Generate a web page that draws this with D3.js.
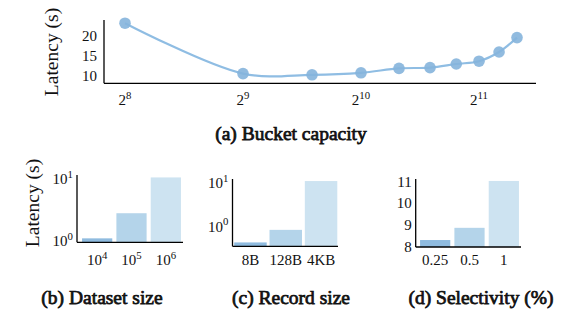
<!DOCTYPE html>
<html>
<head>
<meta charset="utf-8">
<script src="https://cdn.jsdelivr.net/npm/d3@7"></script>
<style>
  body { margin: 0; background: #fff; }
  svg text { font-family: "Liberation Serif", "DejaVu Serif", serif; fill: #111; }
  svg text.title { stroke: #111; stroke-width: 0.75; }
</style>
</head>
<body>
<script>
// --- data ---
// (a) bucket capacity vs latency
const capacity = [256, 512, 768, 1024, 1280, 1536, 1792, 2048, 2304, 2560];
const capLatency = [23.2, 10.6, 10.3, 10.8, 11.9, 12.1, 13.0, 13.7, 16.0, 19.6];
const capTicks = [256, 512, 1024, 2048];
const capYTicks = [10, 15, 20];

// (b) dataset size
const datasetCats = ["4", "5", "6"];          // exponents of 10
const datasetLatency = [1.1, 2.8, 10.6];

// (c) record size
const recordCats = ["8B", "128B", "4KB"];
const recordLatency = [0.43, 0.84, 11.3];

// (d) selectivity
const selCats = ["0.25", "0.5", "1"];
const selLatency = [8.32, 8.88, 11.03];

const barColors = ["#8fbbdf", "#b4d4ea", "#cde3f1"];
const lineColor = "#8fbde3";

const W = 574, H = 312;
const svg = d3.select("body").append("svg")
  .attr("width", W).attr("height", H);

function supLabel(sel, base, exp, size) {
  sel.append("tspan").text(base);
  sel.append("tspan").text(exp)
    .attr("font-size", size * 0.72)
    .attr("dy", -size * 0.42);
}

// ---------- (a) ----------
const xa = d3.scaleLog().base(2)
  .domain([Math.pow(2, 7.822), Math.pow(2, 11.483)])
  .range([104, 536]);
const ya = d3.scaleLinear().domain([8.17, 24]).range([83.3, 20]);

const ga = svg.append("g");
// axes
ga.append("line").attr("x1", xa.range()[0]).attr("x2", xa.range()[0])
  .attr("y1", ya.range()[1]).attr("y2", ya.range()[0])
  .attr("stroke", "#000").attr("stroke-width", 1.3);
ga.append("line").attr("x1", xa.range()[0]).attr("x2", xa.range()[1])
  .attr("y1", ya.range()[0]).attr("y2", ya.range()[0])
  .attr("stroke", "#000").attr("stroke-width", 1.3);

ga.selectAll(".ytick").data(capYTicks).enter().append("text")
  .attr("x", 97).attr("y", d => ya(d) + 5)
  .attr("text-anchor", "end").attr("font-size", 15)
  .text(d => d);

ga.selectAll(".xtick").data(capTicks).enter().append("text")
  .attr("x", d => xa(d)).attr("y", 105)
  .attr("text-anchor", "middle").attr("font-size", 15)
  .each(function(d) { supLabel(d3.select(this), "2", Math.log2(d), 15); });

ga.append("text")
  .attr("transform", "translate(58,52) rotate(-90)")
  .attr("text-anchor", "middle").attr("font-size", 19.5)
  .text("Latency (s)");

const pts = capacity.map((c, i) => [c, capLatency[i]]);
ga.append("path")
  .attr("d", d3.line().x(d => xa(d[0])).y(d => ya(d[1]))
    .curve(d3.curveCatmullRom.alpha(0.5))(pts))
  .attr("fill", "none").attr("stroke", lineColor).attr("stroke-width", 2.2);
ga.selectAll("circle").data(pts).enter().append("circle")
  .attr("cx", d => xa(d[0])).attr("cy", d => ya(d[1])).attr("r", 5.8)
  .attr("fill", "#85b4dc").attr("opacity", 0.9);

ga.append("text").attr("class", "title").attr("x", 291).attr("y", 140)
  .attr("text-anchor", "middle").attr("font-size", 19.5)
  .text("(a) Bucket capacity");

// ---------- bar panels ----------
function barPanel(opt) {
  const g = svg.append("g");
  const x = d3.scaleBand().domain(opt.cats).range(opt.xr)
    .paddingInner(opt.pi).paddingOuter(opt.po);
  const y = opt.y;
  g.selectAll("rect").data(opt.values).enter().append("rect")
    .attr("x", (d, i) => x(opt.cats[i]))
    .attr("width", x.bandwidth())
    .attr("y", d => y(d))
    .attr("height", d => y.range()[0] - y(d))
    .attr("fill", (d, i) => barColors[i]);
  g.append("line").attr("x1", opt.ax).attr("x2", opt.ax)
    .attr("y1", y.range()[1]).attr("y2", y.range()[0])
    .attr("stroke", "#000").attr("stroke-width", 1.3);
  g.append("line").attr("x1", opt.ax).attr("x2", opt.xr[1])
    .attr("y1", y.range()[0]).attr("y2", y.range()[0])
    .attr("stroke", "#000").attr("stroke-width", 1.3);
  g.selectAll(".yt").data(opt.yticks).enter().append("text")
    .attr("x", opt.ax - 4).attr("y", d => y(d) + 5)
    .attr("text-anchor", "end").attr("font-size", 15)
    .each(function(d) {
      if (opt.log) supLabel(d3.select(this), "10", Math.round(Math.log10(d)), 15);
      else d3.select(this).text(d);
    });
  g.selectAll(".xt").data(opt.cats).enter().append("text")
    .attr("x", d => x(d) + x.bandwidth() / 2).attr("y", 265)
    .attr("text-anchor", "middle").attr("font-size", 15)
    .each(function(d) {
      if (opt.supX) supLabel(d3.select(this), "10", d, 15);
      else d3.select(this).text(d);
    });
  g.append("text").attr("class", "title").attr("x", opt.tx).attr("y", 304)
    .attr("text-anchor", "middle").attr("font-size", 19.5)
    .text(opt.title);
  return g;
}

barPanel({
  cats: datasetCats, values: datasetLatency, supX: true, log: true,
  xr: [80, 183], pi: 0.12, po: 0.06, ax: 77,
  y: d3.scaleLog().domain([0.95, 11.6]).range([242.3, 175]),
  yticks: [1, 10], tx: 102, title: "(b) Dataset size"
});
svg.append("text")
  .attr("transform", "translate(39,203) rotate(-90)")
  .attr("text-anchor", "middle").attr("font-size", 19.5)
  .text("Latency (s)");

barPanel({
  cats: recordCats, values: recordLatency, log: true,
  xr: [233.5, 338], pi: 0.08, po: 0.02, ax: 232.5,
  y: d3.scaleLog().domain([0.35, 12.6]).range([246.3, 179]),
  yticks: [1, 10], tx: 291, title: "(c) Record size"
});

barPanel({
  cats: selCats, values: selLatency, log: false,
  xr: [418, 521], pi: 0.12, po: 0.06, ax: 415.7,
  y: d3.scaleLinear().domain([8, 11.12]).range([247, 179]),
  yticks: [8, 9, 10, 11], tx: 481, title: "(d) Selectivity (%)"
});
</script>
</body>
</html>
